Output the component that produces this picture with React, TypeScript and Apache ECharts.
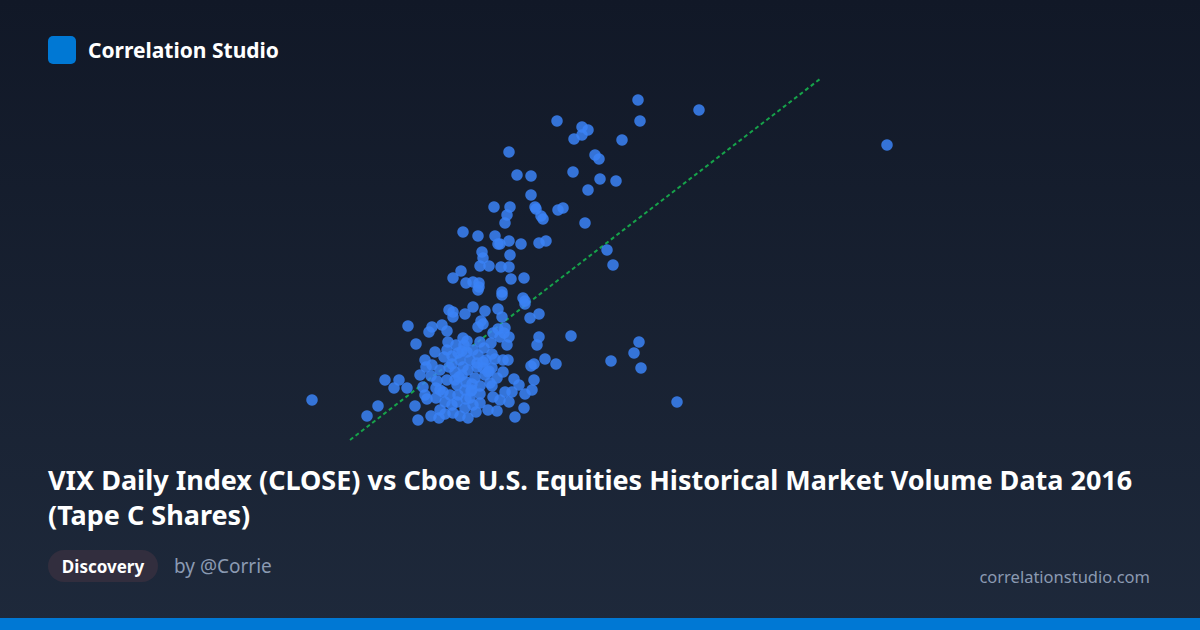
import React, { useEffect, useRef } from "react";
import * as echarts from "echarts";

// Cboe U.S. Equities Tape C volume (millions of shares) for each 2016 trading day
const volumeM: number[] = [
  538, 599, 787, 457, 482, 488, 482, 474, 540, 522, 495, 499, 473, 500, 516, 488,
  409, 417, 431, 431, 394, 410, 407, 405, 435, 436, 441, 443, 458, 463, 485,
  363, 378, 395, 398, 400, 409, 421, 439, 446, 507, 513, 382, 383, 410, 380, 389,
  401, 409, 361, 353, 366, 373, 379, 379, 378, 411, 424, 402, 402, 423, 425, 425,
  349, 353, 353, 365, 373, 385, 398, 402, 430, 439, 308, 329, 332, 342, 347, 381,
  383, 378, 393, 398, 405, 404, 316, 348, 363, 367, 373, 380, 391, 400, 409, 407,
  439, 437, 471, 325, 326, 344, 352, 358, 367, 392, 395, 403, 445, 431, 434, 456,
  511, 534, 539, 541, 577, 320, 331, 285, 299, 294, 307, 323, 337, 349, 363, 377,
  383, 403, 414, 419, 434, 432, 425, 405, 390, 393, 380, 372, 212, 278, 267, 315,
  318, 327, 336, 331, 339, 345, 353, 360, 357, 373, 380, 388, 397, 409, 415, 424,
  340, 362, 368, 375, 385, 357, 365, 350, 358, 370, 347, 355, 360, 370, 378, 386,
  384, 364, 356, 340, 345, 352, 365, 376, 368, 355, 397, 392, 366, 380, 340, 336,
  325, 400, 412, 408, 347, 335, 332, 372, 388, 352, 362, 377, 392, 343, 366, 383,
  359, 371, 389,
];

// VIX Daily Index close for the same days
const vixClose: number[] = [
  28.5, 28.0, 26.25, 27.45, 27.15, 27.0, 26.75, 26.55, 27.45, 26.5, 25.75, 25.55, 24.9, 24.55, 24.45, 24.0,
  25.9, 24.75, 24.7, 23.75, 23.15, 23.15, 22.75, 22.35, 23.15, 23.05, 22.7, 22.55, 23.0, 23.1, 22.35,
  21.9, 21.7, 21.7, 21.3, 21.3, 21.45, 21.3, 21.35, 21.45, 21.0, 20.25, 20.9, 20.6, 20.75, 20.2, 20.2,
  20.15, 20.15, 19.95, 19.6, 19.35, 19.4, 19.35, 19.15, 19.0, 19.55, 19.6, 18.9, 18.75, 18.6, 18.45, 18.3,
  18.0, 17.9, 17.65, 17.8, 18.15, 17.95, 18.05, 17.65, 17.6, 17.8, 17.2, 16.9, 17.15, 17.25, 16.95, 17.45,
  17.3, 17.15, 16.85, 17.05, 17.1, 16.85, 16.3, 16.4, 16.6, 16.45, 16.0, 16.4, 16.35, 16.65, 16.65, 16.25,
  16.65, 16.25, 16.7, 15.5, 15.15, 15.65, 15.7, 15.85, 15.9, 15.8, 15.55, 15.5, 15.55, 15.2, 15.3, 15.3,
  15.45, 15.85, 16.4, 15.1, 13.4, 14.75, 14.7, 14.5, 14.5, 14.1, 14.1, 14.15, 14.45, 15.15, 15.15, 15.15,
  15.1, 14.9, 14.55, 14.25, 14.5, 14.0, 13.8, 13.9, 14.35, 13.65, 13.8, 14.0, 13.5, 13.2, 12.7, 13.2,
  12.5, 13.55, 13.6, 12.7, 12.6, 12.8, 12.85, 12.7, 13.4, 13.25, 13.35, 13.0, 12.95, 13.4, 12.65, 13.1,
  13.0, 14.75, 15.0, 14.6, 14.75, 14.25, 14.0, 13.75, 13.75, 13.6, 14.5, 14.9, 15.5, 15.5, 15.75, 15.5,
  16.1, 16.25, 16.25, 14.0, 13.4, 13.25, 13.1, 12.9, 12.6, 14.5, 14.6, 15.1, 14.4, 14.2, 15.0, 14.1,
  13.75, 13.5, 13.9, 15.5, 16.0, 15.9, 15.25, 14.3, 14.9, 15.3, 15.95, 15.35, 14.2, 13.9, 13.55, 15.4,
  14.65, 13.95, 14.95,
];

// Fitted trend line end points (volume, VIX)
const trendVolume: number[] = [250, 720];
const trendVix: number[] = [11.5, 29.55];

const title1 = "VIX Daily Index (CLOSE) vs Cboe U.S. Equities Historical Market Volume Data 2016";
const title2 = "(Tape C Shares)";

export default function App() {
  const ref = useRef<HTMLDivElement>(null);

  useEffect(() => {
    document.body.style.margin = "0";
    if (!ref.current) return;
    const chart = echarts.init(ref.current, undefined, { renderer: "svg" });
    const points = volumeM.map((v, i) => [v, vixClose[i]]);
    const trend = trendVolume.map((v, i) => [v, trendVix[i]]);
    const font = "'Noto Sans', 'Open Sans', sans-serif";

    chart.setOption({
      animation: false,
      backgroundColor: "transparent",
      grid: { left: 100, right: 100, top: 70, bottom: 160 },
      xAxis: { type: "value", min: 0, max: 1000, show: false },
      yAxis: { type: "value", min: 10, max: 30, show: false },
      series: [
        {
          type: "line",
          data: trend,
          symbol: "none",
          z: 1,
          lineStyle: { color: "#16a34a", width: 2, type: [4, 3] },
        },
        {
          type: "scatter",
          data: points,
          symbolSize: 11.5,
          z: 2,
          itemStyle: { color: "#3b82f6", opacity: 0.85 },
        },
      ],
      graphic: [
        {
          type: "rect",
          shape: { x: 48, y: 36, width: 28, height: 28, r: 5 },
          style: { fill: "#0078d4" },
        },
        {
          type: "text",
          x: 88,
          y: 50,
          style: {
            text: "Correlation Studio",
            fill: "#ffffff",
            font: `bold 21px ${font}`,
            verticalAlign: "middle",
          },
        },
        {
          type: "text",
          x: 48,
          y: 479,
          style: {
            text: title1,
            fill: "#ffffff",
            font: `bold 27px ${font}`,
            verticalAlign: "middle",
          },
        },
        {
          type: "text",
          x: 48,
          y: 514,
          style: {
            text: title2,
            fill: "#ffffff",
            font: `bold 27px ${font}`,
            verticalAlign: "middle",
          },
        },
        {
          type: "rect",
          shape: { x: 48, y: 550, width: 110, height: 32, r: 16 },
          style: { fill: "#322e3e" },
        },
        {
          type: "text",
          x: 103,
          y: 566,
          style: {
            text: "Discovery",
            fill: "#ffffff",
            font: `bold 17px ${font}`,
            align: "center",
            verticalAlign: "middle",
          },
        },
        {
          type: "text",
          x: 174,
          y: 566,
          style: {
            text: "by @Corrie",
            fill: "#8b9ab2",
            font: `19px ${font}`,
            verticalAlign: "middle",
          },
        },
        {
          type: "text",
          x: 1150,
          y: 576,
          style: {
            text: "correlationstudio.com",
            fill: "#8b9ab2",
            font: `16.5px ${font}`,
            align: "right",
            verticalAlign: "middle",
          },
        },
        {
          type: "rect",
          shape: { x: 0, y: 618, width: 1200, height: 12 },
          style: { fill: "#0078d4" },
        },
      ],
    });
    return () => chart.dispose();
  }, []);

  return (
    <div
      ref={ref}
      style={{
        width: 1200,
        height: 630,
        background: "linear-gradient(180deg, #111827 0%, #1e293b 100%)",
      }}
    />
  );
}
